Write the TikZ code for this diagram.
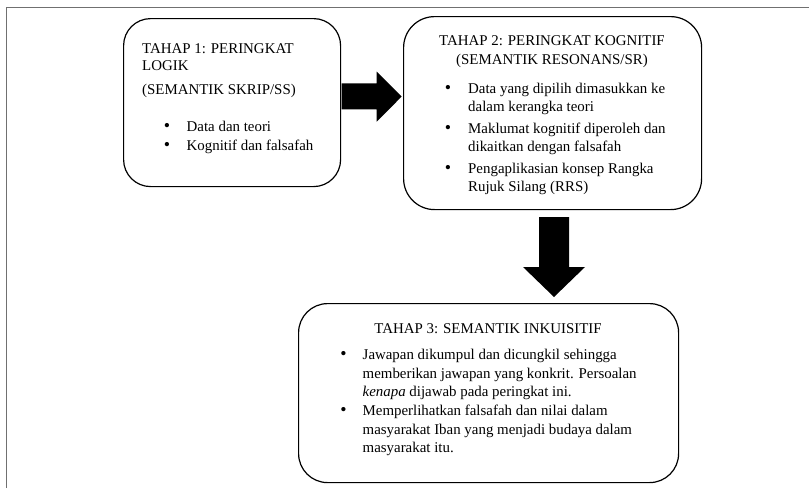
\documentclass[tikz,border=0pt]{standalone}
\usepackage{fontspec}
\setmainfont{Liberation Serif}
\newcommand{\myfont}{\fontsize{14.9}{18.5}\selectfont}
\newcommand{\mybullet}{\scalebox{1.2}{\textbullet}}
\definecolor{framegray}{RGB}{112,112,112}
\tikzset{
  txt/.style={inner sep=0pt, anchor=base west, font=\myfont},
  ctxt/.style={inner sep=0pt, anchor=base, font=\myfont},
  bul/.style={inner sep=0pt, anchor=base, font=\myfont},
  stagebox/.style={draw=black, line width=1.2pt, inner sep=0pt, anchor=north west, fill=white},
  blockarrow/.style={fill=black, draw=none},
}
\begin{document}
\begin{tikzpicture}[x=1pt,y=-1pt]
\useasboundingbox (0,0) rectangle (809,488);
\fill[white] (0,0) rectangle (809,488);
% outer frame (left and top edges only)
\draw[framegray, line width=1.6pt] (6.5,488) -- (6.5,7.3) -- (809,7.3);

% boxes
\node[stagebox, rounded corners=27pt, minimum width=217pt, minimum height=168pt] (b1) at (123,18) {};
\node[stagebox, rounded corners=31pt, minimum width=298pt, minimum height=193pt] (b2) at (403,16) {};
\node[stagebox, rounded corners=29pt, minimum width=380pt, minimum height=179pt] (b3) at (298,303) {};

% block arrows
\fill[blockarrow] (341.7,83.3) -- (376.7,83.3) -- (376.7,71.7) -- (401.7,96.5)
   -- (376.7,121.7) -- (376.7,109.3) -- (341.7,109.3) -- cycle;
\fill[blockarrow] (539,217) -- (569,217) -- (569,267) -- (585,267) -- (554,297)
   -- (523,267) -- (539,267) -- cycle;

% box 1 text
\node[txt] (t1a) at (142,53.5) {TAHAP 1: PERINGKAT};
\node[txt] (t1b) at (142,70.5) {LOGIK};
\node[txt] (t1c) at (142,94.5) {(SEMANTIK SKRIP/SS)};
\node[bul] (u1a) at (167,131.5) {\mybullet};
\node[txt] (t1d) at (186.5,131.5) {Data dan teori};
\node[bul] (u1b) at (167,150.5) {\mybullet};
\node[txt] (t1e) at (186.5,150.5) {Kognitif dan falsafah};

% box 2 text
\node[ctxt] (t2a) at (552,45) {TAHAP 2: PERINGKAT KOGNITIF};
\node[ctxt] (t2b) at (552,64) {(SEMANTIK RESONANS/SR)};
\node[bul] (u2a) at (448,93.5) {\mybullet};
\node[txt] (t2c) at (468,93.5) {Data yang dipilih dimasukkan ke};
\node[txt] (t2d) at (468,111.5) {dalam kerangka teori};
\node[bul] (u2b) at (448,133) {\mybullet};
\node[txt] (t2e) at (468,133) {Maklumat kognitif diperoleh dan};
\node[txt] (t2f) at (468,151) {dikaitkan dengan falsafah};
\node[bul] (u2c) at (448,173) {\mybullet};
\node[txt] (t2g) at (468,173) {Pengaplikasian konsep Rangka};
\node[txt] (t2h) at (468,191) {Rujuk Silang (RRS)};

% box 3 text
\node[ctxt] (t3a) at (488,333) {TAHAP 3: SEMANTIK INKUISITIF};
\node[bul] (u3a) at (343.5,359.5) {\mybullet};
\node[txt] (t3b) at (362.5,359.5) {Jawapan dikumpul dan dicungkil sehingga};
\node[txt] (t3c) at (362.5,378) {memberikan jawapan yang konkrit. Persoalan};
\node[txt] (t3d) at (362.5,396.5) {\textit{kenapa} dijawab pada peringkat ini.};
\node[bul] (u3b) at (343.5,415.5) {\mybullet};
\node[txt] (t3e) at (362.5,415.5) {Memperlihatkan falsafah dan nilai dalam};
\node[txt] (t3f) at (362.5,434) {masyarakat Iban yang menjadi budaya dalam};
\node[txt] (t3g) at (362.5,452.5) {masyarakat itu.};
\end{tikzpicture}
\end{document}
